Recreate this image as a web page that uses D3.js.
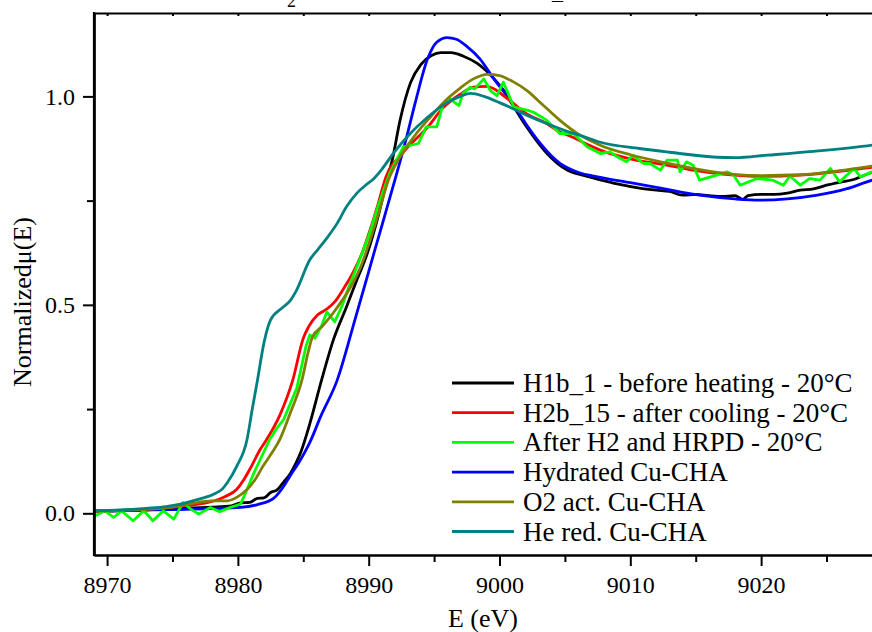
<!DOCTYPE html>
<html>
<head>
<meta charset="utf-8">
<script src="https://cdn.jsdelivr.net/npm/d3@7"></script>
<style>
  body { margin: 0; background: #fff; }
  text { font-family: 'Liberation Serif', 'Times New Roman', serif; fill: #000; }
</style>
</head>
<body>
<div id="chart"></div>
<script>
// Cu K-edge XANES, energy in eV vs normalized mu(E)
var seriesNames = [
  'H1b_1 - before heating - 20\u00b0C',
  'H2b_15 - after cooling - 20\u00b0C',
  'After H2 and HRPD - 20\u00b0C',
  'Hydrated Cu-CHA',
  'O2 act. Cu-CHA',
  'He red. Cu-CHA'
];
var seriesColors = ['#000000', '#ff0000', '#00ff00', '#0000ff', '#808000', '#008080'];

var xMajorTicks = [8970, 8980, 8990, 9000, 9010, 9020];
var xMinorTicks = [8975, 8985, 8995, 9005, 9015, 9025];
var yMajorTicks = [0, 0.5, 1.0];
var yMinorTicks = [0.25, 0.75];

var h1b = [[8969, 0.005], [8972, 0.007], [8975, 0.011], [8978, 0.015], [8979.5, 0.018], [8980.2, 0.025],
  [8980.9, 0.026], [8981.5, 0.036], [8982, 0.037], [8982.5, 0.05], [8983, 0.056], [8983.5, 0.075],
  [8984, 0.095], [8984.4, 0.118], [8984.8, 0.146], [8985.5, 0.215], [8986.4, 0.32], [8987.3, 0.416],
  [8988.3, 0.495], [8989.1, 0.56], [8989.9, 0.624], [8990.7, 0.71], [8991.4, 0.8], [8991.8, 0.847],
  [8992.4, 0.943], [8993.2, 1.033], [8994, 1.077], [8994.8, 1.098], [8995.5, 1.105], [8996.3, 1.105],
  [8997.2, 1.097], [8998.3, 1.079], [8999.5, 1.045], [9000.3, 1.015], [9001, 0.98], [9002, 0.93],
  [9002.8, 0.895], [9003.6, 0.864], [9004.4, 0.84], [9005.2, 0.823], [9006.5, 0.81], [9007.7, 0.8],
  [9009, 0.79], [9010.7, 0.78], [9012, 0.775], [9013, 0.772], [9014, 0.763], [9015, 0.765],
  [9016, 0.762], [9017, 0.76], [9018, 0.762], [9018.6, 0.753], [9019, 0.762], [9020, 0.765],
  [9021, 0.765], [9022, 0.768], [9023, 0.775], [9024, 0.778], [9025, 0.787], [9026, 0.794],
  [9027, 0.8], [9028.5, 0.818], [9030, 0.826]];

var h2b = [[8969, 0.005], [8972, 0.008], [8975, 0.015], [8977, 0.022], [8978.1, 0.029], [8979, 0.04],
  [8979.9, 0.057], [8980.4, 0.078], [8980.9, 0.105], [8981.7, 0.153], [8982.2, 0.177], [8983.2, 0.235],
  [8984.2, 0.32], [8985, 0.42], [8985.4, 0.447], [8986.1, 0.476], [8986.8, 0.49], [8987.4, 0.507],
  [8988.1, 0.54], [8988.8, 0.577], [8989.5, 0.625], [8990.1, 0.679], [8990.7, 0.74], [8991.3, 0.805],
  [8992.6, 0.864], [8994.5, 0.926], [8995.7, 0.973], [8997, 1.005], [8998, 1.022], [8999, 1.024],
  [8999.7, 1.016], [9000.3, 1.002], [9000.8, 0.99], [9002, 0.96], [9003.6, 0.935], [9004.6, 0.915],
  [9005.6, 0.902], [9006.7, 0.885], [9007.7, 0.871], [9010, 0.85], [9012.8, 0.835], [9015, 0.822],
  [9017.9, 0.811], [9020, 0.808], [9023, 0.811], [9026, 0.82], [9028.5, 0.83], [9030, 0.836]];

var afterH2 = [[8969.08, -0.006], [8969.85, 0.006], [8970.5, -0.01], [8971.1, 0.006], [8972, -0.018],
  [8972.8, 0.006], [8973.5, -0.018], [8974.3, 0.006], [8975.1, -0.014], [8975.8, 0.026], [8976.4, 0.01],
  [8977, -0.002], [8977.9, 0.014], [8978.6, 0.004], [8979.4, 0.014], [8980.2, 0.022], [8980.6, 0.05],
  [8981.2, 0.095], [8981.8, 0.135], [8982.4, 0.175], [8983, 0.205], [8983.5, 0.225], [8984.5, 0.3],
  [8985.2, 0.4], [8985.5, 0.428], [8985.9, 0.42], [8986.4, 0.45], [8986.8, 0.483], [8987.4, 0.459],
  [8988, 0.5], [8988.4, 0.536], [8989.2, 0.6], [8990, 0.665], [8990.8, 0.745], [8991.6, 0.815],
  [8992.65, 0.879], [8993.8, 0.887], [8994.4, 0.927], [8995.2, 0.927], [8995.7, 0.982], [8996.2, 0.994],
  [8996.9, 0.978], [8997.2, 1.006], [8997.75, 1.022], [8998.1, 1.018], [8998.8, 1.042], [8999.3, 1.014],
  [8999.8, 1.002], [9000.3, 1.034], [9001.1, 0.974], [9002.1, 0.967], [9002.6, 0.962], [9003.6, 0.943],
  [9004.6, 0.911], [9005.65, 0.911], [9006.7, 0.879], [9007.7, 0.863], [9008.45, 0.867], [9009, 0.855],
  [9009.7, 0.843], [9010.2, 0.859], [9011, 0.839], [9011.5, 0.839], [9012.3, 0.823], [9012.8, 0.847],
  [9013.6, 0.847], [9013.8, 0.819], [9014.3, 0.843], [9014.8, 0.835], [9015.3, 0.799], [9016.6, 0.811],
  [9017.4, 0.819], [9017.9, 0.811], [9018.4, 0.787], [9019.7, 0.803], [9020.9, 0.799], [9021.7, 0.787],
  [9022.2, 0.809], [9023, 0.787], [9023.7, 0.803], [9024.5, 0.799], [9025.3, 0.827], [9026, 0.795],
  [9027.1, 0.827], [9027.6, 0.807], [9028.5, 0.819], [9030, 0.83]];

var hydrated = [[8969, 0.005], [8972, 0.007], [8975, 0.009], [8978, 0.011], [8980.2, 0.014], [8981.5, 0.021],
  [8982.7, 0.035], [8983.4, 0.06], [8984, 0.09], [8984.8, 0.129], [8985.5, 0.17], [8986.3, 0.23],
  [8987.6, 0.32], [8989, 0.47], [8990.5, 0.635], [8992, 0.799], [8992.8, 0.89], [8993.6, 0.99],
  [8994.5, 1.09], [8995.2, 1.13], [8996, 1.141], [8996.7, 1.137], [8997.5, 1.12], [8998.5, 1.09],
  [8999.5, 1.045], [9001, 0.983], [9002, 0.935], [9003.1, 0.888], [9004.6, 0.84], [9006, 0.818],
  [9007.7, 0.806], [9010, 0.793], [9012, 0.782], [9015.3, 0.763], [9018, 0.754], [9019.9, 0.751],
  [9022, 0.754], [9024.3, 0.763], [9026.5, 0.778], [9028.5, 0.799], [9030, 0.81]];

var o2act = [[8969, 0.005], [8972, 0.008], [8975, 0.015], [8977.1, 0.027], [8978, 0.03], [8979.2, 0.03],
  [8980, 0.04], [8980.7, 0.057], [8981.3, 0.08], [8981.9, 0.112], [8982.6, 0.145], [8983.2, 0.177],
  [8984, 0.24], [8984.9, 0.32], [8985.4, 0.39], [8985.7, 0.423], [8986.5, 0.45], [8987.3, 0.481],
  [8988, 0.512], [8988.8, 0.553], [8989.5, 0.6], [8990.1, 0.655], [8990.8, 0.725], [8991.5, 0.799],
  [8992.3, 0.85], [8993.5, 0.905], [8994.7, 0.95], [8995.8, 0.988], [8997, 1.02], [8998, 1.042],
  [8999.1, 1.053], [9000, 1.05], [9001, 1.036], [9002.1, 1.014], [9003.3, 0.98], [9004.6, 0.943],
  [9006, 0.91], [9007.7, 0.883], [9010, 0.86], [9012.8, 0.84], [9015, 0.826], [9017.9, 0.813],
  [9020, 0.81], [9023, 0.812], [9026, 0.822], [9028.5, 0.833], [9030, 0.84]];

var heRed = [[8969, 0.006], [8971, 0.008], [8973, 0.012], [8974.5, 0.016], [8975.6, 0.022], [8976.9, 0.033],
  [8978.1, 0.045], [8978.8, 0.058], [8979.2, 0.074], [8979.9, 0.112], [8980.7, 0.177], [8981.1, 0.25],
  [8981.5, 0.32], [8982, 0.41], [8982.5, 0.464], [8983.4, 0.493], [8984, 0.51], [8984.5, 0.536],
  [8985.5, 0.608], [8986.1, 0.632], [8986.8, 0.66], [8987.6, 0.696], [8988.3, 0.735], [8989.1, 0.768],
  [8989.8, 0.788], [8990.3, 0.8], [8991, 0.825], [8991.9, 0.864], [8993, 0.905], [8994.5, 0.95],
  [8996, 0.985], [8997, 1.0], [8997.8, 1.007], [8998.8, 1.0], [9000, 0.985], [9001, 0.971],
  [9002.3, 0.952], [9003.6, 0.935], [9005, 0.918], [9006.5, 0.903], [9007.7, 0.89], [9010.7, 0.875],
  [9013, 0.866], [9016.6, 0.854], [9018, 0.853], [9020.5, 0.859], [9024, 0.868], [9028.5, 0.883],
  [9030, 0.89]];

var seriesValues = [h1b, h2b, afterH2, hydrated, o2act, heRed];

var width = 872, height = 632;
var margins = {left: 94, top: 13, bottom: 77};
var plotRight = 905; // frame runs off the right edge of the picture
var serif = "'Liberation Serif', 'Times New Roman', serif";

var svg = d3.select('#chart').append('svg')
            .attr('width', width)
            .attr('height', height)
            .attr('font-family', serif);

var x = d3.scaleLinear().domain([8969, 9031]).range([margins.left, plotRight]);
var y = d3.scaleLinear().domain([-0.1, 1.2]).range([height - margins.bottom, margins.top]);

svg.append('clipPath').attr('id', 'plotClip')
   .append('rect')
   .attr('x', margins.left).attr('y', margins.top)
   .attr('width', plotRight - margins.left)
   .attr('height', height - margins.bottom - margins.top);

// title fragments that sit cut off at the very top of the picture
svg.append('text').attr('x', 287).attr('y', 7).attr('font-size', 18).text('2');
svg.append('text').attr('x', 552).attr('y', -1).attr('font-size', 22).attr('fill', '#888').text('_');

// lines
var line = d3.line()
             .x(function(d) { return x(d[0]); })
             .y(function(d) { return y(d[1]); })
             .curve(d3.curveMonotoneX);
var rawLine = d3.line()
                .x(function(d) { return x(d[0]); })
                .y(function(d) { return y(d[1]); });

var lines = svg.append('g').attr('class', 'linesWrapper').attr('clip-path', 'url(#plotClip)');
var drawOrder = [0, 3, 1, 2, 4, 5];
drawOrder.forEach(function(i) {
  lines.append('path')
       .attr('d', i === 2 ? rawLine(seriesValues[i]) : line(seriesValues[i]))
       .attr('fill', 'none')
       .attr('stroke', seriesColors[i])
       .attr('stroke-width', 2.8)
       .attr('stroke-linejoin', 'round');
});

// axes
var yBottom = height - margins.bottom;
var xAxis = d3.axisBottom(x).tickValues(xMajorTicks).tickSize(11).tickSizeOuter(0).tickPadding(10)
              .tickFormat(d3.format('d'));
var xMinor = d3.axisBottom(x).tickValues(xMinorTicks).tickSize(7).tickSizeOuter(0).tickFormat('');
var xTop = d3.axisTop(x).tickValues(xMajorTicks.concat(xMinorTicks)).tickSize(-3).tickSizeOuter(0).tickFormat('');
var yAxis = d3.axisLeft(y).tickValues(yMajorTicks).tickSize(11).tickSizeOuter(0).tickPadding(8)
              .tickFormat(d3.format('.1f'));
var yMinor = d3.axisLeft(y).tickValues(yMinorTicks).tickSize(7).tickSizeOuter(0).tickFormat('');

svg.append('g').attr('class', 'xaxisWrapper').attr('transform', 'translate(0,' + yBottom + ')').call(xAxis);
svg.append('g').attr('class', 'xaxisWrapper').attr('transform', 'translate(0,' + yBottom + ')').call(xMinor);
svg.append('g').attr('class', 'xaxisWrapper').attr('transform', 'translate(0,' + margins.top + ')').call(xTop);
svg.append('g').attr('class', 'yaxisWrapper').attr('transform', 'translate(' + margins.left + ',0)').call(yAxis);
svg.append('g').attr('class', 'yaxisWrapper').attr('transform', 'translate(' + margins.left + ',0)').call(yMinor);

svg.selectAll('.xaxisWrapper, .yaxisWrapper')
   .attr('font-family', serif)
   .attr('font-size', 24);
svg.selectAll('.domain').attr('stroke-width', 2.2);
svg.selectAll('.tick line').attr('stroke-width', 2);
svg.selectAll('.tick text')
   .style('font-family', serif)
   .style('font-size', '24px')
   .attr('fill', '#000');

// left frame edge runs to the top
svg.append('line')
   .attr('x1', margins.left).attr('x2', margins.left)
   .attr('y1', margins.top - 1).attr('y2', yBottom + 1)
   .attr('stroke', '#000').attr('stroke-width', 2.2);

// axis titles
svg.append('text')
   .attr('x', 483).attr('y', 627)
   .attr('text-anchor', 'middle')
   .attr('font-size', 26)
   .text('E (eV)');
svg.append('text')
   .attr('transform', 'translate(31,302) rotate(-90)')
   .attr('text-anchor', 'middle')
   .attr('font-size', 26)
   .text('Normalized\u03bc(E)');

// legend
var legend = svg.append('g').attr('class', 'legendWrapper');
seriesNames.forEach(function(name, i) {
  var ly = 383 + i * 29.7;
  legend.append('line')
        .attr('x1', 452).attr('x2', 514)
        .attr('y1', ly).attr('y2', ly)
        .attr('stroke', seriesColors[i])
        .attr('stroke-width', 2.8);
  legend.append('text')
        .attr('x', 523).attr('y', ly + 9)
        .attr('font-size', 27)
        .text(name);
});
</script>
</body>
</html>
